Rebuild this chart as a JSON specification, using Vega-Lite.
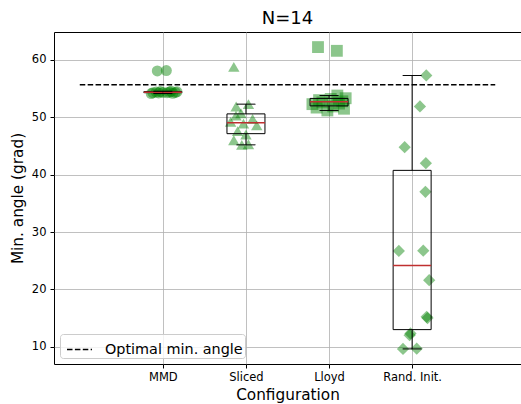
{
  "$schema": "https://vega.github.io/schema/vega-lite/v6.json",
  "width": 467,
  "height": 332,
  "autosize": {"type": "none"},
  "padding": {"left": 54, "top": 32, "right": 0, "bottom": 40},
  "background": "white",
  "title": {"text": "N=14", "fontSize": 18, "font": "DejaVu Sans", "fontWeight": "normal", "offset": 4, "color": "black"},
  "config": {
    "font": "DejaVu Sans",
    "view": {"stroke": "black", "strokeWidth": 1},
    "axis": {
      "gridColor": "#b0b0b0", "gridWidth": 0.8, "gridOpacity": 1, "domain": false,
      "tickColor": "black", "tickSize": 4, "labelColor": "black", "labelFontSize": 11.5,
      "titleFontSize": 15.3, "titleFontWeight": "normal", "titleColor": "black"
    }
  },
  "datasets": {
    "pts": [
      {"config": "MMD", "pos": 1, "x": 0.933, "val": 58.1},
      {"config": "MMD", "pos": 1, "x": 1.042, "val": 58.15},
      {"config": "MMD", "pos": 1, "x": 0.86, "val": 54.15},
      {"config": "MMD", "pos": 1, "x": 1.12, "val": 54.2},
      {"config": "MMD", "pos": 1, "x": 0.95, "val": 54.25},
      {"config": "MMD", "pos": 1, "x": 1.05, "val": 54.3},
      {"config": "MMD", "pos": 1, "x": 0.88, "val": 54.3},
      {"config": "MMD", "pos": 1, "x": 1.15, "val": 54.35},
      {"config": "MMD", "pos": 1, "x": 1.0, "val": 54.35},
      {"config": "MMD", "pos": 1, "x": 0.92, "val": 54.4},
      {"config": "MMD", "pos": 1, "x": 1.08, "val": 54.4},
      {"config": "MMD", "pos": 1, "x": 1.17, "val": 54.45},
      {"config": "MMD", "pos": 1, "x": 0.97, "val": 54.5},
      {"config": "MMD", "pos": 1, "x": 1.1, "val": 54.55},
      {"config": "Sliced", "pos": 2, "x": 1.95, "val": 45.2},
      {"config": "Sliced", "pos": 2, "x": 2.03, "val": 45.3},
      {"config": "Sliced", "pos": 2, "x": 1.854, "val": 46.0},
      {"config": "Sliced", "pos": 2, "x": 2.0, "val": 47.0},
      {"config": "Sliced", "pos": 2, "x": 1.9, "val": 47.6},
      {"config": "Sliced", "pos": 2, "x": 2.13, "val": 48.6},
      {"config": "Sliced", "pos": 2, "x": 1.97, "val": 48.9},
      {"config": "Sliced", "pos": 2, "x": 1.815, "val": 49.2},
      {"config": "Sliced", "pos": 2, "x": 2.08, "val": 49.7},
      {"config": "Sliced", "pos": 2, "x": 1.88, "val": 50.3},
      {"config": "Sliced", "pos": 2, "x": 1.94, "val": 50.7},
      {"config": "Sliced", "pos": 2, "x": 1.882, "val": 51.9},
      {"config": "Sliced", "pos": 2, "x": 2.03, "val": 52.3},
      {"config": "Sliced", "pos": 2, "x": 1.854, "val": 58.8},
      {"config": "Lloyd", "pos": 3, "x": 2.98, "val": 51.2},
      {"config": "Lloyd", "pos": 3, "x": 3.18, "val": 51.5},
      {"config": "Lloyd", "pos": 3, "x": 2.85, "val": 51.7},
      {"config": "Lloyd", "pos": 3, "x": 3.05, "val": 51.9},
      {"config": "Lloyd", "pos": 3, "x": 2.8, "val": 52.3},
      {"config": "Lloyd", "pos": 3, "x": 3.12, "val": 52.4},
      {"config": "Lloyd", "pos": 3, "x": 2.92, "val": 52.6},
      {"config": "Lloyd", "pos": 3, "x": 3.16, "val": 52.8},
      {"config": "Lloyd", "pos": 3, "x": 2.88, "val": 53.0},
      {"config": "Lloyd", "pos": 3, "x": 3.02, "val": 53.2},
      {"config": "Lloyd", "pos": 3, "x": 3.2, "val": 53.33},
      {"config": "Lloyd", "pos": 3, "x": 3.1, "val": 53.8},
      {"config": "Lloyd", "pos": 3, "x": 3.094, "val": 61.6},
      {"config": "Lloyd", "pos": 3, "x": 2.867, "val": 62.25},
      {"config": "Rand. Init.", "pos": 4, "x": 3.89, "val": 9.61},
      {"config": "Rand. Init.", "pos": 4, "x": 4.055, "val": 9.65},
      {"config": "Rand. Init.", "pos": 4, "x": 3.97, "val": 12.0},
      {"config": "Rand. Init.", "pos": 4, "x": 3.98, "val": 12.3},
      {"config": "Rand. Init.", "pos": 4, "x": 4.185, "val": 15.0},
      {"config": "Rand. Init.", "pos": 4, "x": 4.175, "val": 15.2},
      {"config": "Rand. Init.", "pos": 4, "x": 4.205, "val": 21.6},
      {"config": "Rand. Init.", "pos": 4, "x": 3.84, "val": 26.7},
      {"config": "Rand. Init.", "pos": 4, "x": 4.134, "val": 26.75},
      {"config": "Rand. Init.", "pos": 4, "x": 4.16, "val": 37.0},
      {"config": "Rand. Init.", "pos": 4, "x": 4.165, "val": 42.0},
      {"config": "Rand. Init.", "pos": 4, "x": 3.91, "val": 44.8},
      {"config": "Rand. Init.", "pos": 4, "x": 4.094, "val": 51.9},
      {"config": "Rand. Init.", "pos": 4, "x": 4.17, "val": 57.3}
    ],
    "opt": [
      {"label": "Optimal min. angle", "x0": 0, "x1": 5, "y": 55.7}
    ]
  },
  "layer": [
    {
      "data": {"name": "pts"},
      "mark": {"type": "point", "filled": true, "color": "#008000", "opacity": 0.45, "strokeWidth": 0},
      "encoding": {
        "x": {
          "field": "x", "type": "quantitative", "title": "Configuration",
          "scale": {"domain": [-0.25, 5.25], "nice": false, "zero": false},
          "axis": {"values": [1, 2, 3, 4], "labelExpr": "['', 'MMD', 'Sliced', 'Lloyd', 'Rand. Init.'][datum.value]", "labelPadding": 3, "titlePadding": 5, "grid": true}
        },
        "y": {
          "field": "val", "type": "quantitative", "title": "Min. angle (grad)",
          "scale": {"domain": [6.978, 64.882], "nice": false, "zero": false},
          "axis": {"values": [10, 20, 30, 40, 50, 60], "labelPadding": 4, "titlePadding": 6, "grid": true}
        },
        "shape": {
          "field": "config", "type": "nominal", "legend": null,
          "scale": {"domain": ["MMD", "Sliced", "Lloyd", "Rand. Init."], "range": ["circle", "triangle-up", "square", "diamond"]}
        },
        "size": {
          "field": "config", "type": "nominal", "legend": null,
          "scale": {"domain": ["MMD", "Sliced", "Lloyd", "Rand. Init."], "range": [121, 150, 130, 300]}
        }
      }
    },
    {
      "data": {"name": "pts"},
      "transform": [
        {"aggregate": [
          {"op": "q1", "field": "val", "as": "q1"},
          {"op": "median", "field": "val", "as": "med"},
          {"op": "q3", "field": "val", "as": "q3"}
        ], "groupby": ["config", "pos"]}
      ],
      "layer": [
        {
          "mark": {"type": "bar", "fill": "transparent", "stroke": "black", "strokeWidth": 1, "width": 38},
          "encoding": {
            "x": {"field": "pos", "type": "quantitative", "title": "Configuration"},
            "y": {"field": "q1", "type": "quantitative", "title": "Min. angle (grad)"},
            "y2": {"field": "q3"}
          }
        },
        {
          "mark": {"type": "tick", "orient": "horizontal", "size": 38, "thickness": 1.5, "color": "#c03030", "fill": "#c03030", "opacity": 1},
          "encoding": {
            "x": {"field": "pos", "type": "quantitative", "title": "Configuration"},
            "y": {"field": "med", "type": "quantitative", "title": "Min. angle (grad)"}
          }
        }
      ]
    },
    {
      "data": {"name": "pts"},
      "transform": [
        {"joinaggregate": [
          {"op": "q1", "field": "val", "as": "q1"},
          {"op": "q3", "field": "val", "as": "q3"}
        ], "groupby": ["config"]},
        {"filter": "datum.val >= datum.q1 - 1.5 * (datum.q3 - datum.q1) && datum.val <= datum.q3 + 1.5 * (datum.q3 - datum.q1)"},
        {"aggregate": [
          {"op": "min", "field": "val", "as": "lo"},
          {"op": "max", "field": "val", "as": "hi"}
        ], "groupby": ["config", "pos", "q1", "q3"]}
      ],
      "layer": [
        {
          "mark": {"type": "rule", "color": "black", "strokeWidth": 1},
          "encoding": {
            "x": {"field": "pos", "type": "quantitative", "title": "Configuration"},
            "y": {"field": "q3", "type": "quantitative", "title": "Min. angle (grad)"},
            "y2": {"field": "hi"}
          }
        },
        {
          "mark": {"type": "rule", "color": "black", "strokeWidth": 1},
          "encoding": {
            "x": {"field": "pos", "type": "quantitative", "title": "Configuration"},
            "y": {"field": "lo", "type": "quantitative", "title": "Min. angle (grad)"},
            "y2": {"field": "q1"}
          }
        },
        {
          "mark": {"type": "tick", "orient": "horizontal", "size": 19, "thickness": 1, "color": "black", "opacity": 1},
          "encoding": {
            "x": {"field": "pos", "type": "quantitative", "title": "Configuration"},
            "y": {"field": "hi", "type": "quantitative", "title": "Min. angle (grad)"}
          }
        },
        {
          "mark": {"type": "tick", "orient": "horizontal", "size": 19, "thickness": 1, "color": "black", "opacity": 1},
          "encoding": {
            "x": {"field": "pos", "type": "quantitative", "title": "Configuration"},
            "y": {"field": "lo", "type": "quantitative", "title": "Min. angle (grad)"}
          }
        }
      ]
    },
    {
      "data": {"name": "opt"},
      "mark": {"type": "rule", "strokeDash": [5.5, 2.4], "strokeWidth": 1.5},
      "encoding": {
        "x": {"field": "x0", "type": "quantitative", "title": "Configuration"},
        "x2": {"field": "x1"},
        "y": {"field": "y", "type": "quantitative", "title": "Min. angle (grad)"},
        "color": {
          "field": "label", "type": "nominal",
          "scale": {"range": ["black"]},
          "legend": {
            "title": null, "orient": "bottom-left", "offset": 6, "padding": 2,
            "strokeColor": "#cccccc", "fillColor": "rgba(255,255,255,0.8)", "cornerRadius": 3,
            "symbolType": "stroke", "symbolSize": 625, "symbolStrokeWidth": 1.5, "symbolDash": [5.5, 2.4],
            "symbolOffset": 4,
            "symbolStrokeColor": "black", "labelFontSize": 14.4, "labelOffset": 12, "labelColor": "black"
          }
        }
      }
    }
  ]
}
